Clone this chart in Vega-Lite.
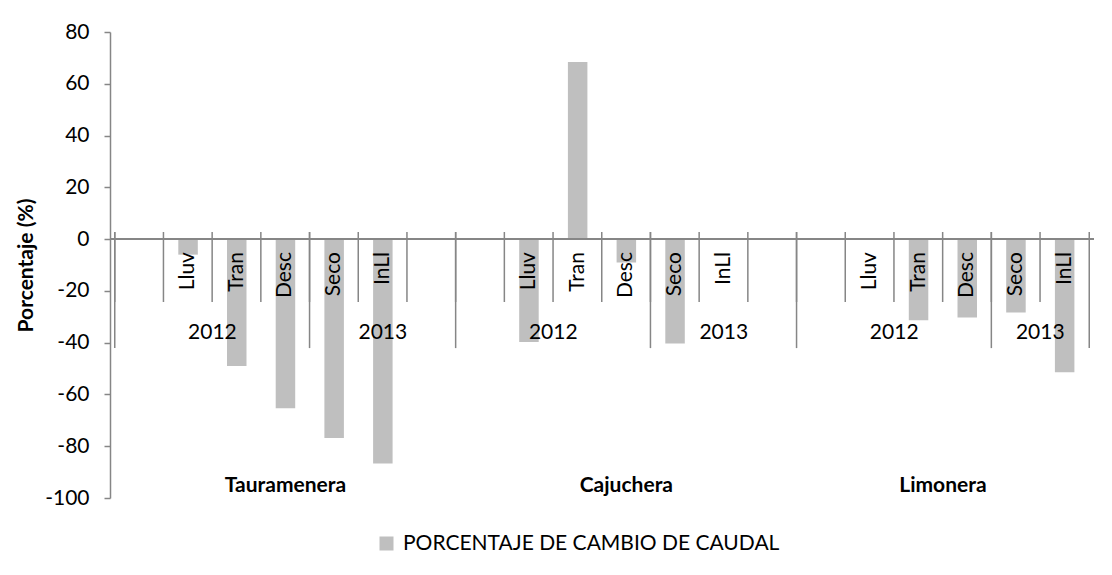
{
  "$schema": "https://vega.github.io/schema/vega-lite/v6.json",
  "autosize": "none",
  "width": 984,
  "height": 466,
  "padding": {"left": 110, "top": 32, "right": 18, "bottom": 77},
  "background": "white",
  "config": {
    "view": {"stroke": null},
    "font": "Lato",
    "text": {"font": "Lato", "color": "black"}
  },
  "data": {
    "values": [
      {"slot": 0, "station": "Tauramenera", "year": "2012", "season": "", "value": null},
      {"slot": 1, "station": "Tauramenera", "year": "2012", "season": "Lluv", "value": -6},
      {"slot": 2, "station": "Tauramenera", "year": "2012", "season": "Tran", "value": -49},
      {"slot": 3, "station": "Tauramenera", "year": "2012", "season": "Desc", "value": -65.3},
      {"slot": 4, "station": "Tauramenera", "year": "2013", "season": "Seco", "value": -76.8},
      {"slot": 5, "station": "Tauramenera", "year": "2013", "season": "InLl", "value": -86.7},
      {"slot": 6, "station": "Tauramenera", "year": "2013", "season": "", "value": null},
      {"slot": 7, "station": "Cajuchera", "year": "2012", "season": "", "value": null},
      {"slot": 8, "station": "Cajuchera", "year": "2012", "season": "Lluv", "value": -39.7},
      {"slot": 9, "station": "Cajuchera", "year": "2012", "season": "Tran", "value": 68.4},
      {"slot": 10, "station": "Cajuchera", "year": "2012", "season": "Desc", "value": -9},
      {"slot": 11, "station": "Cajuchera", "year": "2013", "season": "Seco", "value": -40.3},
      {"slot": 12, "station": "Cajuchera", "year": "2013", "season": "InLl", "value": 0},
      {"slot": 13, "station": "Cajuchera", "year": "2013", "season": "", "value": null},
      {"slot": 14, "station": "Limonera", "year": "2012", "season": "", "value": null},
      {"slot": 15, "station": "Limonera", "year": "2012", "season": "Lluv", "value": 0},
      {"slot": 16, "station": "Limonera", "year": "2012", "season": "Tran", "value": -31.3},
      {"slot": 17, "station": "Limonera", "year": "2012", "season": "Desc", "value": -30.3},
      {"slot": 18, "station": "Limonera", "year": "2013", "season": "Seco", "value": -28.3},
      {"slot": 19, "station": "Limonera", "year": "2013", "season": "InLl", "value": -51.4}
    ]
  },
  "encoding": {
    "x": {"field": "slot", "type": "quantitative", "scale": {"domain": [-0.5, 19.5], "nice": false, "zero": false}, "axis": null}
  },
  "layer": [
    {
      "mark": {"type": "bar", "width": 19.5},
      "encoding": {
        "y": {
          "field": "value", "type": "quantitative",
          "scale": {"domain": [-100, 80], "nice": false},
          "axis": {
            "values": [-100, -80, -60, -40, -20, 0, 20, 40, 60, 80],
            "labelExpr": "'' + datum.value",
            "grid": false,
            "domainColor": "#868686", "domainWidth": 1.5,
            "tickColor": "#868686", "tickWidth": 1.5, "tickSize": 6,
            "labelFont": "Lato", "labelFontSize": 21, "labelColor": "black", "labelPadding": 15,
            "title": "Porcentaje (%)",
            "titleFont": "Lato", "titleFontSize": 21, "titleFontWeight": "bold", "titleColor": "black",
            "titleAngle": 270, "titleX": -84, "titleY": 233, "titleAlign": "center", "titleBaseline": "middle"
          }
        },
        "color": {
          "datum": "PORCENTAJE DE CAMBIO DE CAUDAL",
          "scale": {"range": ["#BFBFBF"]},
          "legend": {
            "title": null, "orient": "none", "legendX": 266, "legendY": 501,
            "symbolType": "square", "symbolSize": 196, "symbolStrokeWidth": 0,
            "labelFont": "Lato", "labelFontSize": 21, "labelColor": "black", "labelOffset": 6, "labelLimit": 0, "padding": 0
          }
        }
      }
    },
    {
      "mark": {"type": "rule", "color": "#868686", "strokeWidth": 1.5},
      "encoding": {"x": null, "y": {"datum": 0}}
    },
    {
      "mark": {"type": "rule", "color": "#868686", "strokeWidth": 1.5, "xOffset": -24.6},
      "encoding": {"y": {"datum": 2.75}, "y2": {"datum": -24.3}}
    },
    {
      "mark": {"type": "rule", "color": "#868686", "strokeWidth": 1.5, "xOffset": -24.6},
      "encoding": {
        "x": {"aggregate": "min", "field": "slot", "type": "quantitative"},
        "detail": [{"field": "station"}, {"field": "year"}],
        "y": {"datum": 2.75}, "y2": {"datum": -42.1}
      }
    },
    {
      "mark": {"type": "rule", "color": "#868686", "strokeWidth": 1.5, "xOffset": 24.6},
      "encoding": {
        "x": {"aggregate": "max", "field": "slot", "type": "quantitative"},
        "y": {"datum": 2.75}, "y2": {"datum": -42.1}
      }
    },
    {
      "transform": [{"filter": "datum.season != ''"}],
      "mark": {"type": "text", "angle": 270, "align": "right", "baseline": "middle", "fontSize": 21, "font": "Lato"},
      "encoding": {"y": {"datum": -5}, "text": {"field": "season"}}
    },
    {
      "mark": {"type": "text", "align": "center", "baseline": "middle", "fontSize": 21, "font": "Lato"},
      "encoding": {
        "x": {"aggregate": "mean", "field": "slot", "type": "quantitative"},
        "detail": {"field": "station"},
        "y": {"datum": -36.3},
        "text": {"field": "year"}
      }
    },
    {
      "mark": {"type": "text", "align": "center", "baseline": "middle", "fontSize": 21, "font": "Lato", "fontWeight": "bold"},
      "encoding": {
        "x": {"aggregate": "mean", "field": "slot", "type": "quantitative"},
        "y": {"datum": -95.5},
        "text": {"field": "station"}
      }
    }
  ]
}
